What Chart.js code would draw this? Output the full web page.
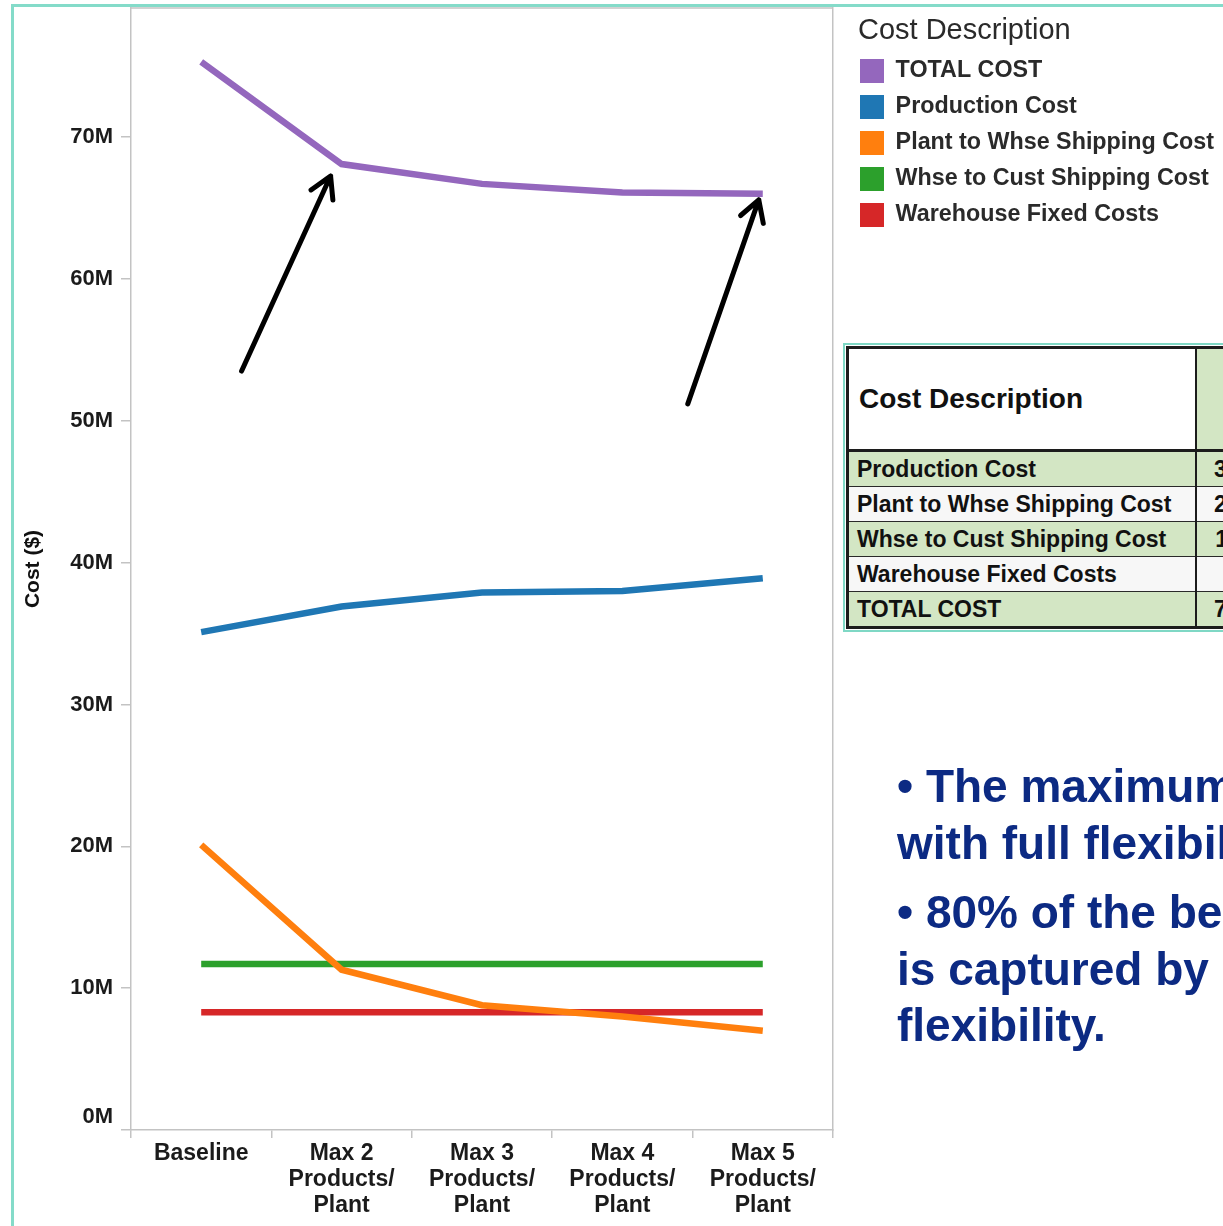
<!DOCTYPE html>
<html>
<head>
<meta charset="utf-8">
<title>Cost by product flexibility</title>
<script src="https://cdn.jsdelivr.net/npm/chart.js@4.4.1/dist/chart.umd.min.js"></script>
<style>
  html, body { margin: 0; padding: 0; background: #fff; }
  #page { position: relative; width: 1223px; height: 1226px; overflow: hidden; font-family: "Liberation Sans", Arial, sans-serif; }
  #chart { position: absolute; left: 0; top: 0; }
  #frame { position: absolute; left: 11px; top: 4px; width: 1400px; height: 1400px;
           border-left: 3px solid #84dbc9; border-top: 3px solid #84dbc9; pointer-events: none; }
  #tableBox { position: absolute; left: 843px; top: 343px; width: 560px; border: 2px solid #7fd8c5; padding: 1px; background: #fff; }
  #costTable { border-collapse: collapse; table-layout: fixed; width: 551px; border: 3px solid #1c1c1c; color: #111; }
  #costTable td, #costTable th { padding: 0; white-space: nowrap; overflow: hidden; }
  #costTable th { height: 100px; text-align: left; font-size: 28px; font-weight: bold; }
  #costTable th.desc { background: #fff; padding-left: 10px; }
  #costTable th.val { background: #d3e6c4; text-align: center; border-left: 2px solid #1c1c1c; }
  #costTable tr.head { border-bottom: 3px solid #1c1c1c; }
  #costTable td { height: 34px; font-size: 23px; font-weight: bold; border-top: 1.5px solid #2a2a2a; }
  #costTable td.desc { padding-left: 8px; }
  #costTable td.val { text-align: right; padding-right: 68px; border-left: 2px solid #1c1c1c; }
  #costTable tr.band td { background: #d3e6c4; }
  #costTable tr.plain td { background: #f7f7f7; }
  #notes { position: absolute; left: 897px; top: 758px; color: #0c2a83; font-weight: bold; font-size: 46px;
           line-height: 56.5px; white-space: nowrap; }
  #notes p { margin: 0 0 13px 0; }
</style>
</head>
<body>
<div id="page">
  <canvas id="chart" width="1223" height="1226"></canvas>
  <div id="frame"></div>
  <div id="tableBox">
    <table id="costTable">
      <colgroup><col style="width:348px"><col style="width:203px"></colgroup>
      <tbody id="costRows"></tbody>
    </table>
  </div>
  <div id="notes">
    <p>• The maximum benefit is achieved<br>with full flexibility.</p>
    <p>• 80% of the benefit<br>is captured by adding a little<br>flexibility.</p>
  </div>
</div>
<script>
// Scenarios on the x axis (multi-line labels)
const categories = [
  ['Baseline'],
  ['Max 2', 'Products/', 'Plant'],
  ['Max 3', 'Products/', 'Plant'],
  ['Max 4', 'Products/', 'Plant'],
  ['Max 5', 'Products/', 'Plant']
];

// Cost per scenario, in millions of dollars
const totalCost          = [75.3, 68.1, 66.7, 66.1, 66.0];
const productionCost     = [35.1, 36.9, 37.9, 38.0, 38.9];
const plantToWhseCost    = [20.1, 11.3, 8.8, 8.0, 7.0];
const whseToCustCost     = [11.7, 11.7, 11.7, 11.7, 11.7];
const warehouseFixedCost = [8.3, 8.3, 8.3, 8.3, 8.3];

// Value axis
const yMax = 79.1;
const yStep = 10;

const FONT = '"Liberation Sans", Arial, sans-serif';
const AXIS_GRAY = '#c3c3c3';
const TEXT = '#1b1b1b';

const series = [
  { label: 'TOTAL COST',                  data: totalCost,          color: '#9467bd', order: 1 },
  { label: 'Production Cost',             data: productionCost,     color: '#1f77b4', order: 1 },
  { label: 'Plant to Whse Shipping Cost', data: plantToWhseCost,    color: '#ff7f0e', order: 0 },
  { label: 'Whse to Cust Shipping Cost',  data: whseToCustCost,     color: '#2ca02c', order: 1 },
  { label: 'Warehouse Fixed Costs',       data: warehouseFixedCost, color: '#d62728', order: 1 }
];

// Call-out arrows pointing at points of the TOTAL COST line (offsets in px from the point)
const callouts = [
  { dataset: 0, index: 1, tip: [-11, 12], tail: [-100, 207] },
  { dataset: 0, index: 4, tip: [-4, 6],   tail: [-75, 210] }
];

// Right-hand legend: use the full width of its longest label, and indent the title slightly
const wideLegend = {
  id: 'wideLegend',
  afterInit(chart) {
    const lg = chart.legend;
    if (!lg || lg._wide) return;
    const update = lg.update.bind(lg);
    lg.update = (maxWidth, maxHeight, margins) => update(Math.max(maxWidth, 420), maxHeight, margins);
    ['drawTitle', '_drawTitle'].forEach(name => {
      if (typeof lg[name] === 'function') {
        const draw = lg[name].bind(lg);
        lg[name] = () => { lg.left += 10; try { draw(); } finally { lg.left -= 10; } };
      }
    });
    lg._wide = true;
  }
};

// Lift the zero label so it sits above the category axis line
const liftZeroLabel = {
  id: 'liftZeroLabel',
  beforeDraw(chart) {
    const y = chart.scales.y;
    if (!y || typeof y.getLabelItems !== 'function') return;
    const items = y.getLabelItems(chart.chartArea);
    const zero = items && items.find(it => it.label === '0M');
    if (zero && zero.options && zero.options.translation && !zero._lifted) {
      zero.options.translation[1] -= 13;
      zero._lifted = true;
    }
  }
};

// Thin border along the top of the plot area
const plotTopBorder = {
  id: 'plotTopBorder',
  beforeDatasetsDraw(chart) {
    const { ctx, chartArea } = chart;
    ctx.save();
    ctx.strokeStyle = AXIS_GRAY;
    ctx.lineWidth = 1.5;
    ctx.beginPath();
    ctx.moveTo(chartArea.left, chartArea.top);
    ctx.lineTo(chartArea.right, chartArea.top);
    ctx.stroke();
    ctx.restore();
  }
};

const calloutArrows = {
  id: 'calloutArrows',
  afterDatasetsDraw(chart) {
    const { ctx } = chart;
    ctx.save();
    ctx.strokeStyle = '#000';
    ctx.lineWidth = 5;
    ctx.lineCap = 'round';
    ctx.lineJoin = 'round';
    callouts.forEach(c => {
      const pt = chart.getDatasetMeta(c.dataset).data[c.index];
      const tipX = pt.x + c.tip[0], tipY = pt.y + c.tip[1];
      const tailX = pt.x + c.tail[0], tailY = pt.y + c.tail[1];
      const len = Math.hypot(tailX - tipX, tailY - tipY);
      const ux = (tailX - tipX) / len, uy = (tailY - tipY) / len;
      const barb = 24, ang = Math.PI / 6;
      const b1x = tipX + barb * (ux * Math.cos(ang) - uy * Math.sin(ang));
      const b1y = tipY + barb * (ux * Math.sin(ang) + uy * Math.cos(ang));
      const b2x = tipX + barb * (ux * Math.cos(-ang) - uy * Math.sin(-ang));
      const b2y = tipY + barb * (ux * Math.sin(-ang) + uy * Math.cos(-ang));
      ctx.beginPath();
      ctx.moveTo(tailX, tailY);
      ctx.lineTo(tipX, tipY);
      ctx.moveTo(b1x, b1y);
      ctx.lineTo(tipX, tipY);
      ctx.lineTo(b2x, b2y);
      ctx.stroke();
    });
    ctx.restore();
  }
};

new Chart(document.getElementById('chart'), {
  type: 'line',
  data: {
    labels: categories,
    datasets: series.map(s => ({
      label: s.label,
      data: s.data,
      borderColor: s.color,
      backgroundColor: s.color,
      borderWidth: 6.5,
      borderCapStyle: 'butt',
      borderJoinStyle: 'miter',
      pointRadius: 0,
      pointHoverRadius: 0,
      tension: 0,
      fill: false,
      order: s.order
    }))
  },
  options: {
    responsive: false,
    animation: false,
    devicePixelRatio: 1,
    layout: { padding: { top: 8, right: -1, bottom: 0, left: 0 } },
    plugins: {
      tooltip: { enabled: false },
      legend: {
        position: 'right',
        align: 'start',
        title: {
          display: true,
          position: 'start',
          text: 'Cost Description',
          color: '#2a2a2a',
          font: { family: FONT, size: 29, lineHeight: 1 },
          padding: { top: 8.5, bottom: 1.5 }
        },
        labels: {
          boxWidth: 24,
          boxHeight: 24,
          padding: 12,
          color: '#111',
          font: { family: FONT, size: 23.3, weight: 'bold' },
          generateLabels: chart => chart.data.datasets.map((ds, i) => ({
            text: ds.label,
            fillStyle: ds.borderColor,
            strokeStyle: ds.borderColor,
            lineWidth: 0,
            hidden: false,
            datasetIndex: i
          }))
        }
      }
    },
    scales: {
      x: {
        offset: true,
        grid: { offset: true, drawOnChartArea: false, drawTicks: true, tickLength: 8, color: AXIS_GRAY, lineWidth: 1.5 },
        border: { color: AXIS_GRAY, width: 1.5 },
        ticks: {
          color: TEXT,
          font: { family: FONT, size: 23, weight: 'bold', lineHeight: 1.15 },
          padding: 2,
          maxRotation: 0,
          autoSkip: false
        },
        afterFit: s => { s.height = 96; s.paddingLeft = 0; s.paddingRight = 0; }
      },
      y: {
        min: 0,
        max: yMax,
        afterBuildTicks: s => { s.ticks = s.ticks.filter(t => Math.abs(t.value % yStep) < 1e-6); },
        ticks: {
          stepSize: yStep,
          callback: v => v + 'M',
          color: TEXT,
          font: { family: FONT, size: 22, weight: 'bold' },
          padding: 8
        },
        grid: { drawOnChartArea: false, drawTicks: true, tickLength: 10, color: AXIS_GRAY, lineWidth: 1.5 },
        border: { color: AXIS_GRAY, width: 1.5 },
        title: {
          display: true,
          text: 'Cost ($)',
          color: '#111',
          font: { family: FONT, size: 21, weight: 'bold', lineHeight: 1.2 },
          padding: { top: 20.4, bottom: 0 }
        },
        afterFit: s => { s.width = 131; s.paddingTop = 0; s.paddingBottom = 0; }
      },
      y2: {
        position: 'right',
        display: true,
        grid: { display: false },
        ticks: { display: false },
        border: { color: AXIS_GRAY, width: 1.5 },
        afterFit: s => { s.width = 15; s.paddingTop = 0; s.paddingBottom = 0; }
      }
    }
  },
  plugins: [wideLegend, liftZeroLabel, plotTopBorder, calloutArrows]
});

// Summary table: baseline cost of each component
const tableRows = [
  { label: 'Production Cost',             values: productionCost,     cls: 'band' },
  { label: 'Plant to Whse Shipping Cost', values: plantToWhseCost,    cls: 'plain' },
  { label: 'Whse to Cust Shipping Cost',  values: whseToCustCost,     cls: 'band' },
  { label: 'Warehouse Fixed Costs',       values: warehouseFixedCost, cls: 'plain' },
  { label: 'TOTAL COST',                  values: totalCost,          cls: 'band' }
];
let html = '<tr class="head"><th class="desc">Cost Description</th><th class="val">' + categories[0].join(' ') + '</th></tr>';
tableRows.forEach(r => {
  const dollars = Math.round(r.values[0] * 1e6).toLocaleString('en-US');
  html += '<tr class="' + r.cls + '"><td class="desc">' + r.label + '</td><td class="val">' + dollars + '</td></tr>';
});
document.getElementById('costRows').innerHTML = html;
</script>
</body>
</html>
